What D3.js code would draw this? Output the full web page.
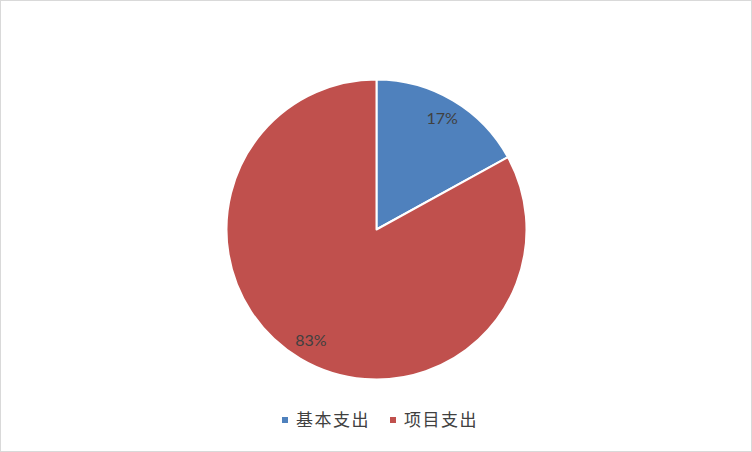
<!DOCTYPE html>
<html>
<head>
<meta charset="utf-8">
<script src="https://cdn.jsdelivr.net/npm/d3@7"></script>
<style>
  html, body { margin: 0; padding: 0; background: #fff; }
  .texto { font-family: Lato, "Noto Sans CJK SC", sans-serif; fill: #404040; }
</style>
</head>
<body>
<div id="chart"></div>
<script>
const width = 752
const height = 452

// data
const categories = ["基本支出", "项目支出"]
const values = [17, 83]
const colors = ["#4f81bd", "#c0504d"]

const cx = 376.5
const cy = 229.5
const radius = 150

const svg = d3.select("div#chart").append("svg").attr("width", width).attr("height", height)

svg.append("rect")
    .attr("x", 0.5).attr("y", 0.5)
    .attr("width", width - 1).attr("height", height - 1)
    .attr("fill", "#fff").attr("stroke", "#d9d9d9")

const pieGroup = svg.append("g").attr("transform", `translate(${cx}, ${cy})`)

const color = d3.scaleOrdinal().domain(categories).range(colors)
const pie = d3.pie().sort(null).value(d => d.value)
const arc = d3.arc().innerRadius(0).outerRadius(radius)
const labelArc = d3.arc().innerRadius(radius * 0.86).outerRadius(radius * 0.86)

const data = categories.map((c, i) => ({name: c, value: values[i]}))
const total = d3.sum(values)

pieGroup.selectAll("path").data(pie(data)).enter().append("path")
    .attr("d", arc)
    .attr("fill", d => color(d.data.name))
    .attr("stroke", "#fff")
    .attr("stroke-width", 2)
    .attr("stroke-linejoin", "round")

pieGroup.selectAll("text").data(pie(data)).enter().append("text")
    .attr("class", "texto")
    .attr("transform", d => `translate(${labelArc.centroid(d)})`)
    .attr("text-anchor", "middle")
    .attr("dy", "0.35em")
    .style("font-size", "16px")
    .text(d => Math.round(d.data.value / total * 100) + "%")

// legend
const legend = svg.append("g").attr("transform", "translate(0, 420)")
const legendX = [282, 390]
const items = legend.selectAll("g").data(categories).enter().append("g")
    .attr("transform", (d, i) => `translate(${legendX[i]}, 0)`)
items.append("rect")
    .attr("x", 0).attr("y", -3)
    .attr("width", 6).attr("height", 6)
    .attr("fill", d => color(d))
items.append("text")
    .attr("class", "texto")
    .attr("x", 14).attr("dy", "0.36em")
    .style("font-size", "17px")
    .style("letter-spacing", "1.5px")
    .text(d => d)
</script>
</body>
</html>
